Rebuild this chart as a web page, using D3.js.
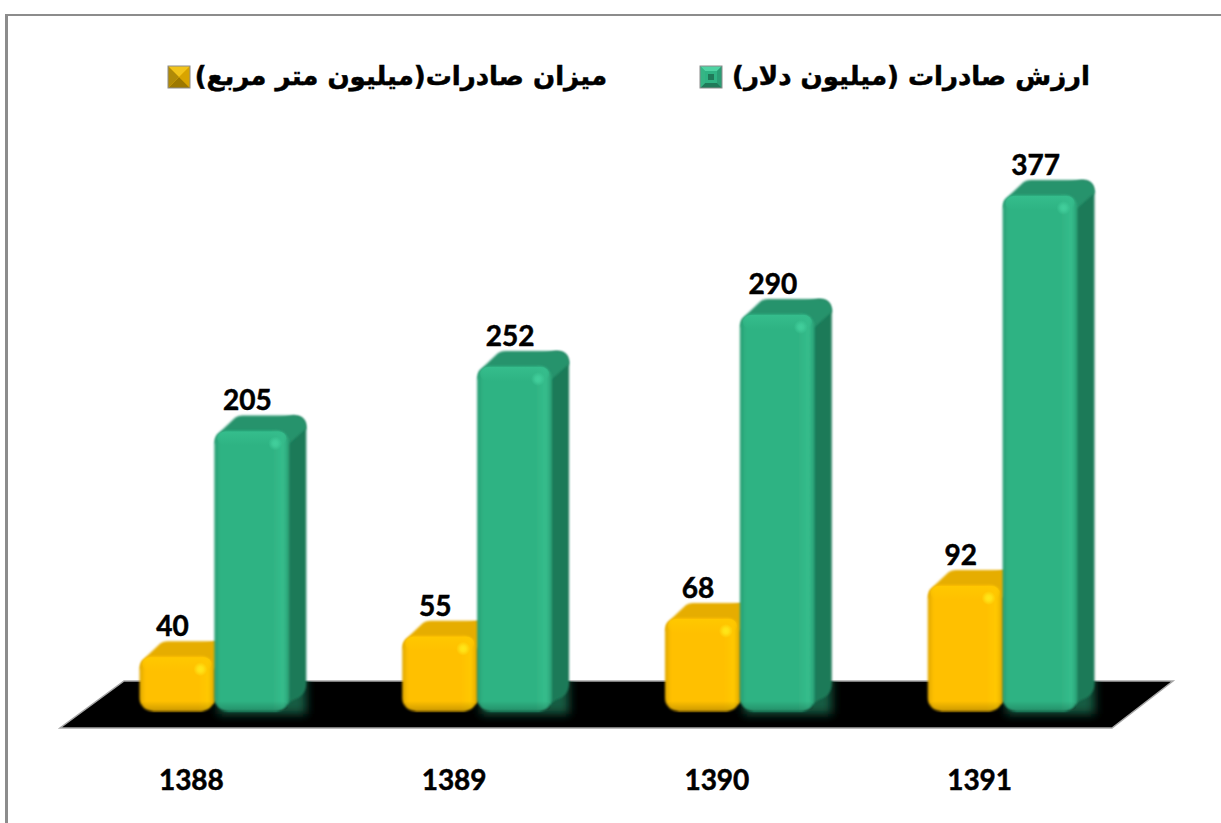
<!DOCTYPE html>
<html>
<head>
<meta charset="utf-8">
<script src="https://cdn.jsdelivr.net/npm/d3@7"></script>
<style>
  html, body { margin: 0; padding: 0; background: #fff; }
  svg { display: block; }
  .num { font-family: Lato, sans-serif; font-weight: 700; fill: #000; stroke: #000; stroke-width: 0.5; }
  .leg { font-family: "DejaVu Sans", sans-serif; font-weight: 700; fill: #000; stroke: #000; stroke-width: 0.5; }
</style>
</head>
<body>
<script>
var years = ["1388", "1389", "1390", "1391"],
    seriesNames = ["میزان صادرات(میلیون متر مربع)", "ارزش صادرات (میلیون دلار)"],
    amount = [40, 55, 68, 92],
    value = [205, 252, 290, 377];

var width = 1221,
    height = 823,
    depthX = 17,
    depthY = 15,
    corner = 13;

var colors = [
  {front: "#ffc000", top: "#e6ad00", side: "#b58900", light: "#ffe81a", soft: "#ffc800", dark: "#e0a800"},
  {front: "#2fb383", top: "#27936c", side: "#1f7a59", light: "#42cf9c", soft: "#35bd8c", dark: "#299d73"}
];

var x = d3.scaleBand().domain(years).range([83, 1134]).paddingInner(0.43).paddingOuter(0.215);
var xIn = d3.scaleBand().domain([0, 1]).range([0, x.bandwidth()]);
var y = d3.scaleLinear().domain([0, 377]).range([711, 195]);

var svg = d3.select("body").append("svg")
  .attr("width", width)
  .attr("height", height);

var defs = svg.append("defs");

colors.forEach(function(c, i) {
  var h = defs.append("linearGradient").attr("id", "hGrad" + i);
  [[0, c.dark], [0.08, c.front], [0.78, c.front], [0.92, c.soft], [1, c.dark]].forEach(function(s) {
    h.append("stop").attr("offset", s[0]).attr("stop-color", s[1]);
  });
  var t = defs.append("radialGradient").attr("id", "spot" + i);
  t.append("stop").attr("offset", 0).attr("stop-color", c.light).attr("stop-opacity", 1);
  t.append("stop").attr("offset", 0.4).attr("stop-color", c.light).attr("stop-opacity", 0.8);
  t.append("stop").attr("offset", 1).attr("stop-color", c.light).attr("stop-opacity", 0);
  var e = defs.append("linearGradient").attr("id", "edgeTop" + i).attr("x1", 0).attr("x2", 0).attr("y1", 0).attr("y2", 1);
  e.append("stop").attr("offset", 0).attr("stop-color", c.soft).attr("stop-opacity", 1);
  e.append("stop").attr("offset", 1).attr("stop-color", c.soft).attr("stop-opacity", 0);
});

var edgeBot = defs.append("linearGradient").attr("id", "edgeBot").attr("x1", 0).attr("x2", 0).attr("y1", 0).attr("y2", 1);
edgeBot.append("stop").attr("offset", 0).attr("stop-color", "#000").attr("stop-opacity", 0);
edgeBot.append("stop").attr("offset", 1).attr("stop-color", "#000").attr("stop-opacity", 0.2);

defs.append("filter").attr("id", "soft").append("feGaussianBlur").attr("stdDeviation", 0.8);
defs.append("filter").attr("id", "glow")
  .attr("x", "-30%").attr("y", "-30%").attr("width", "160%").attr("height", "160%")
  .append("feGaussianBlur").attr("stdDeviation", 5);

// frame
svg.append("rect")
  .attr("x", 6.5).attr("y", 15)
  .attr("width", 1260).attr("height", 860)
  .attr("fill", "#fff").attr("stroke", "#8c8c8c").attr("stroke-width", 2);
svg.append("line")
  .attr("x1", 6.5).attr("x2", 6.5).attr("y1", 14).attr("y2", height)
  .attr("stroke", "#8c8c8c").attr("stroke-width", 3);

// floor
var floorLeft = x.range()[0] - 23,
    floorRight = x.range()[1] - 22,
    floorFront = y(0) + 17,
    floorBack = y(0) - 30,
    floorSkew = 63;
var floorPath = d3.path();
floorPath.moveTo(floorLeft, floorFront);
floorPath.lineTo(floorRight, floorFront);
floorPath.lineTo(floorRight + floorSkew - 2, floorBack);
floorPath.lineTo(floorLeft + floorSkew + 1, floorBack);
floorPath.closePath();

svg.append("path").attr("d", floorPath.toString())
  .attr("fill", "#000").attr("stroke", "#a6a6a6").attr("stroke-width", 1.5);

defs.append("clipPath").attr("id", "floorClip")
  .append("path").attr("d", floorPath.toString());

// one group per series, gold is drawn first so the green bar covers its side
var rows = [];
[amount, value].forEach(function(vals, s) {
  vals.forEach(function(v, i) {
    rows.push({s: s, v: v, year: years[i]});
  });
});

var bw = xIn.bandwidth();

// green glow on the floor, only shows on the black
svg.append("g")
  .attr("clip-path", "url(#floorClip)")
  .selectAll("rect")
  .data(rows.filter(function(d) { return d.s === 1; }))
  .enter()
  .append("rect")
    .attr("x", function(d) { return x(d.year) + xIn(d.s) + 4; })
    .attr("y", y(0) - 40)
    .attr("width", bw + depthX - 4)
    .attr("height", 43)
    .attr("fill", "#155c43")
    .attr("filter", "url(#glow)");

var bar = svg.selectAll("g.bar")
  .data(rows)
  .enter()
  .append("g")
    .attr("class", "bar")
    .attr("transform", function(d) {
      return "translate(" + (x(d.year) + xIn(d.s)) + ",0)";
    });

// back block, gives the side face
bar.append("path")
  .attr("d", function(d) {
    var t = y(d.v), b = y(0), r = corner, p = d3.path();
    p.moveTo(r, t);
    p.lineTo(bw + depthX - r, t - depthY);
    p.quadraticCurveTo(bw + depthX, t - depthY, bw + depthX, t - depthY + r);
    p.lineTo(bw + depthX, b - depthY - r);
    p.quadraticCurveTo(bw + depthX, b - depthY, bw + depthX - r, b - depthY + 4);
    p.lineTo(bw - r, b);
    p.lineTo(r, b);
    p.closePath();
    return p.toString();
  })
  .attr("fill", function(d) { return colors[d.s].side; })
  .attr("filter", "url(#soft)");

// top face
bar.append("path")
  .attr("d", function(d) {
    var t = y(d.v), r = corner, p = d3.path();
    p.moveTo(1, t + 8);
    p.quadraticCurveTo(2, t + 4, 5, t + 2);
    p.lineTo(21, t - depthY + 2);
    p.quadraticCurveTo(24, t - depthY, 28, t - depthY);
    p.lineTo(bw + depthX - r, t - depthY);
    p.quadraticCurveTo(bw + depthX, t - depthY, bw + depthX, t - depthY + r);
    p.lineTo(bw, t + r);
    p.lineTo(1, t + r);
    p.closePath();
    return p.toString();
  })
  .attr("fill", function(d) { return colors[d.s].top; })
  .attr("filter", "url(#soft)");

// front face
bar.append("rect")
  .attr("y", function(d) { return y(d.v); })
  .attr("width", bw)
  .attr("height", function(d) { return y(0) - y(d.v); })
  .attr("rx", corner)
  .attr("fill", function(d) { return "url(#hGrad" + d.s + ")"; })
  .attr("filter", "url(#soft)");

bar.append("rect")
  .attr("x", 3)
  .attr("y", function(d) { return y(d.v) + 1; })
  .attr("width", bw - 6)
  .attr("height", 14)
  .attr("rx", 8)
  .attr("fill", function(d) { return "url(#edgeTop" + d.s + ")"; });

bar.append("rect")
  .attr("x", 1)
  .attr("y", function(d) { return y(0) - 10; })
  .attr("width", bw - 2)
  .attr("height", 10)
  .attr("rx", 8)
  .attr("fill", "url(#edgeBot)");

// small highlight near the top right corner
bar.append("circle")
  .attr("cx", bw - 14)
  .attr("cy", function(d) { return y(d.v) + 13; })
  .attr("r", 7)
  .attr("fill", function(d) { return "url(#spot" + d.s + ")"; });

// value labels
bar.append("text")
  .attr("class", "num")
  .attr("x", 33)
  .attr("y", function(d) { return y(d.v) - 20; })
  .attr("text-anchor", "middle")
  .attr("font-size", 28)
  .text(function(d) { return d.v; });

// category labels
svg.selectAll("text.year")
  .data(years)
  .enter()
  .append("text")
    .attr("class", "num year")
    .attr("x", function(d) { return x(d) + x.bandwidth() / 2 - 23; })
    .attr("y", 790)
    .attr("text-anchor", "middle")
    .attr("font-size", 28)
    .text(function(d) { return d; });

// legend
var legendX = d3.scaleOrdinal().domain(seriesNames).range([168, 700]);
var legendText = d3.scaleOrdinal().domain(seriesNames).range([607, 1090]);

var legend = svg.selectAll("g.legend")
  .data(seriesNames)
  .enter()
  .append("g")
    .attr("class", "legend");

legend.append("text")
  .attr("class", "leg")
  .attr("x", function(d) { return legendText(d); })
  .attr("y", 85)
  .attr("direction", "rtl")
  .attr("text-anchor", "start")
  .attr("font-size", 26)
  .text(function(d) { return d; });

var swatch = 22;
var swatchFaces = [
  {top: "#f2c41a", right: "#d8a400", bottom: "#9c7800", left: "#b08a08", bevel: 11},
  {top: "#4fd3a3", right: "#2a9d74", bottom: "#1f7a59", left: "#35b585", bevel: 5}
];
legend.each(function(d, i) {
  var g = d3.select(this).append("g")
    .attr("transform", "translate(" + legendX(d) + ",66)");
  var f = swatchFaces[i], b = f.bevel, m = swatch / 2;
  var faces = [
    [f.top, [[0, 0], [swatch, 0], [swatch - b, b], [b, b]]],
    [f.right, [[swatch, 0], [swatch, swatch], [swatch - b, swatch - b], [swatch - b, b]]],
    [f.bottom, [[0, swatch], [swatch, swatch], [swatch - b, swatch - b], [b, swatch - b]]],
    [f.left, [[0, 0], [0, swatch], [b, swatch - b], [b, b]]]
  ];
  g.append("rect").attr("width", swatch).attr("height", swatch).attr("fill", colors[i].front);
  g.selectAll("polygon").data(faces).enter().append("polygon")
    .attr("points", function(p) { return p[1].join(" "); })
    .attr("fill", function(p) { return p[0]; });
  if (i === 1) {
    g.append("rect").attr("x", m - 3).attr("y", m - 3).attr("width", 6).attr("height", 6).attr("fill", colors[i].side);
  }
  g.append("rect").attr("width", swatch).attr("height", swatch).attr("fill", "none").attr("stroke", "#8c8c8c");
});
</script>
</body>
</html>
